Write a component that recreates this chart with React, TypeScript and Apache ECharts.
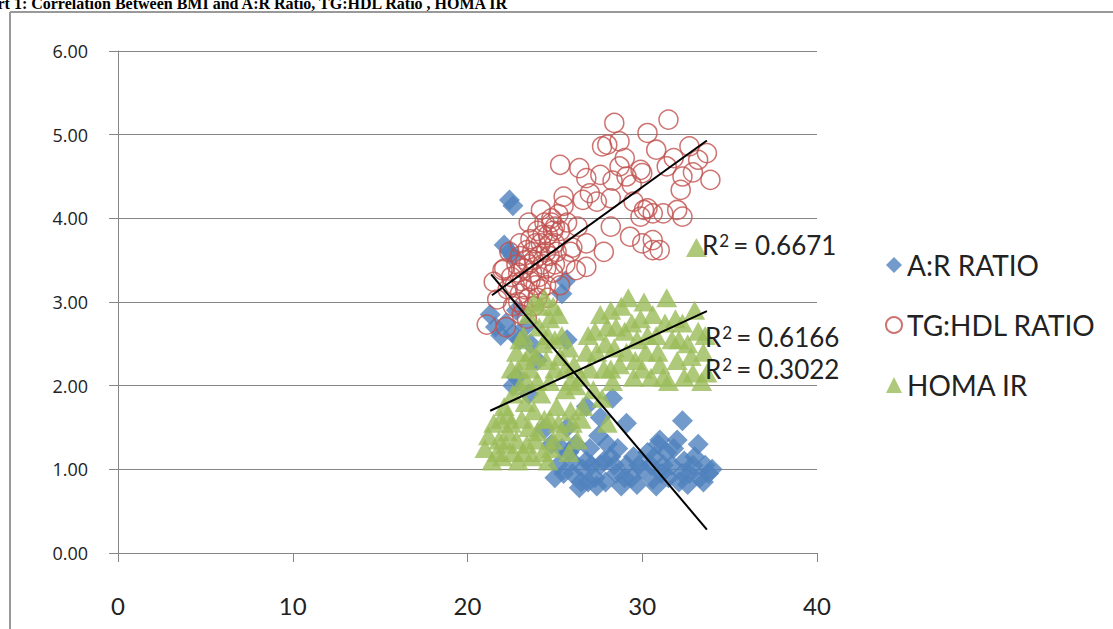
import React, { useEffect, useRef } from "react";
import * as echarts from "echarts";

const xMin = 0;
const xMax = 40;
const xStep = 10;
const yMin = 0;
const yMax = 6;
const yStep = 1;

const seriesNames = ["A:R RATIO", "TG:HDL RATIO", "HOMA IR"];

const arRatio: number[][] = [
  [22.4, 4.22], [22.6, 4.15], [22.1, 3.68], [22.4, 3.6], [22.6, 3.55],
  [21.3, 2.85], [21.6, 2.7], [21.9, 2.6], [22.2, 2.75], [22.6, 2.62],
  [23.0, 2.55], [22.8, 2.9], [23.3, 2.7], [23.6, 2.5], [25.4, 3.1],
  [25.6, 3.25], [25.7, 2.55], [22.8, 2.1], [24.4, 1.48], [23.5, 1.9],
  [24.0, 2.3], [22.6, 2.0],
  [25.2, 1.05], [25.5, 0.95], [25.8, 1.2], [26.2, 1.3], [26.5, 0.85],
  [26.8, 1.1], [27.0, 1.25], [27.3, 0.9], [27.6, 1.05], [27.9, 0.85],
  [28.2, 1.15], [28.5, 0.95], [28.8, 0.8], [29.1, 1.05], [29.4, 0.9],
  [29.7, 0.82], [30.0, 1.0], [30.3, 1.2], [30.6, 0.88], [30.9, 1.3],
  [31.2, 1.05], [31.5, 0.9], [31.8, 1.25], [32.1, 0.85], [32.4, 1.1],
  [32.7, 0.95], [33.0, 1.15], [33.3, 0.9], [33.6, 1.05], [33.8, 0.95],
  [31.0, 1.35], [29.5, 1.15], [28.0, 1.3], [26.0, 0.95], [25.0, 0.9],
  [27.5, 1.4], [28.3, 1.85], [29.1, 1.55], [32.3, 1.58], [27.6, 1.62],
  [26.8, 1.75], [25.7, 1.5], [24.8, 1.3], [26.4, 0.78], [30.8, 0.8],
  [32.6, 0.82],
  [25.4, 1.25], [26.0, 1.1], [26.6, 1.0], [27.1, 1.05], [27.8, 1.1],
  [28.4, 1.05], [29.0, 0.9], [29.8, 1.05], [30.5, 1.05], [31.1, 0.95],
  [31.7, 1.05], [32.3, 0.95], [32.9, 1.05], [33.5, 0.85], [31.4, 1.2],
  [32.0, 1.35], [30.7, 1.15], [28.6, 1.25], [27.4, 0.8], [26.9, 0.85],
  [34.0, 1.0], [33.2, 1.3],
];

const tgHdlRatio: number[][] = [
  [28.4, 5.14], [31.5, 5.18], [25.3, 4.64], [26.4, 4.6], [27.7, 4.86],
  [28.7, 4.92], [30.3, 5.02], [26.8, 4.48], [27.6, 4.52], [28.3, 4.45],
  [29.1, 4.5], [29.9, 4.58], [25.5, 4.26], [26.6, 4.22], [27.4, 4.2],
  [28.2, 4.24], [29.5, 4.2], [30.1, 4.1], [30.6, 4.06], [26.3, 3.9],
  [26.8, 3.7], [26.8, 3.42], [28.2, 3.9], [29.3, 3.78], [30.0, 3.7],
  [30.6, 3.62], [28.0, 4.88], [30.8, 4.82], [32.7, 4.86], [33.7, 4.78],
  [33.9, 4.46], [32.3, 4.5], [31.4, 4.62], [32.2, 4.34], [30.0, 4.54],
  [28.7, 4.62], [29.4, 4.4], [30.3, 4.12], [29.9, 4.02], [31.2, 4.06],
  [32.0, 4.1], [32.3, 4.02], [31.0, 3.62], [30.6, 3.74], [33.2, 4.7],
  [32.9, 4.55], [31.8, 4.72], [29.0, 4.72], [27.0, 4.3], [27.8, 3.6],
  [25.9, 3.6], [26.2, 3.38],
  [22.5, 3.3], [22.8, 3.45], [23.0, 3.55], [23.2, 3.4], [23.4, 3.62],
  [23.6, 3.75], [23.8, 3.5], [24.0, 3.85], [24.2, 3.7], [24.4, 3.95],
  [24.5, 3.6], [24.6, 3.8], [24.8, 4.0], [25.0, 3.9], [25.2, 4.05],
  [24.1, 3.3], [23.9, 3.2], [23.5, 3.05], [23.3, 3.15], [23.7, 3.35],
  [24.3, 3.45], [24.7, 3.55], [25.0, 3.7], [25.3, 3.85], [22.9, 3.0],
  [22.6, 2.95], [23.1, 2.85], [23.4, 2.8], [24.0, 3.05], [24.5, 3.2],
  [22.3, 3.15], [22.1, 3.4], [22.4, 3.6], [23.0, 3.7], [23.5, 3.95],
  [24.2, 4.1], [25.5, 4.15], [25.7, 3.95], [21.5, 3.24], [22.0, 3.38],
  [21.1, 2.73], [21.7, 3.03], [22.2, 2.7], [23.8, 2.95], [24.9, 3.35],
  [25.3, 3.2], [26.0, 3.65], [25.6, 3.45],
  [22.7, 3.2], [22.9, 3.35], [23.1, 3.25], [23.3, 3.5], [23.5, 3.45],
  [23.7, 3.6], [23.9, 3.7], [24.1, 3.55], [24.3, 3.8], [24.5, 3.4],
  [24.7, 3.7], [24.9, 3.85], [25.1, 3.6], [23.2, 2.95], [23.6, 3.25],
  [24.2, 3.15], [24.6, 3.05], [25.0, 3.45], [23.0, 3.1], [24.8, 3.95],
];

const homaIr: number[][] = [
  [21.0, 1.25], [21.4, 1.1], [21.8, 1.35], [22.0, 1.15], [22.3, 1.45],
  [22.6, 1.2], [22.9, 1.1], [23.1, 1.6], [23.4, 1.3], [23.7, 1.15],
  [24.0, 1.45], [24.3, 1.2], [24.6, 1.1], [24.9, 1.35], [21.5, 1.55],
  [22.1, 1.75], [22.6, 1.9], [23.0, 2.0], [23.3, 1.8], [23.8, 1.7],
  [24.2, 1.9], [24.7, 1.6], [25.1, 1.75], [25.4, 1.45], [25.6, 1.95],
  [25.9, 1.7], [26.2, 2.0], [23.6, 2.2], [24.0, 2.05], [24.5, 2.3],
  [22.8, 2.4], [23.2, 2.6], [23.5, 2.85], [23.8, 3.0], [24.1, 2.7],
  [24.4, 3.05], [24.7, 2.8], [25.0, 2.55], [25.3, 2.35], [25.6, 2.2],
  [24.3, 2.5], [23.9, 2.35], [25.2, 2.85], [25.8, 2.45], [26.1, 2.25],
  [22.5, 2.2],
  [21.2, 1.4], [21.7, 1.2], [22.2, 1.3], [22.5, 1.55], [22.8, 1.35],
  [23.2, 1.2], [23.5, 1.5], [23.9, 1.35], [24.4, 1.6], [24.8, 1.25],
  [25.2, 1.55], [25.8, 1.2], [26.3, 1.35], [26.0, 1.55], [26.5, 1.6],
  [22.9, 2.2], [23.4, 2.05], [24.7, 2.05], [25.0, 2.2], [23.0, 2.55],
  [23.6, 2.4], [24.1, 2.95], [24.6, 2.6], [25.4, 2.6], [24.9, 2.95],
  [23.3, 2.3], [25.9, 2.05], [21.9, 1.6], [22.3, 1.65],
  [26.5, 2.1], [26.8, 2.4], [27.0, 2.2], [27.3, 2.65], [27.6, 2.85],
  [27.9, 2.5], [28.2, 2.2], [28.5, 2.7], [28.8, 2.95], [29.1, 2.4],
  [29.4, 2.75], [29.7, 2.55], [30.0, 2.2], [30.3, 2.6], [30.6, 2.85],
  [30.9, 2.4], [31.2, 2.1], [31.4, 3.05], [31.7, 2.55], [32.0, 2.3],
  [32.3, 2.75], [32.6, 2.5], [32.9, 2.15], [33.2, 2.65], [33.5, 2.4],
  [33.7, 2.15], [33.1, 3.65], [29.2, 3.05], [28.0, 1.55], [27.7, 1.85],
  [28.3, 2.05], [30.5, 2.1], [31.5, 2.05], [32.4, 2.1], [33.4, 2.05],
  [29.5, 2.1], [27.2, 1.95], [26.6, 1.75],
  [26.9, 2.6], [27.4, 2.4], [27.8, 2.2], [28.0, 2.7], [28.4, 2.45],
  [28.7, 2.25], [29.0, 2.65], [29.6, 2.3], [29.9, 2.8], [30.2, 2.4],
  [30.8, 2.6], [31.0, 2.25], [31.3, 2.75], [31.9, 2.8], [32.1, 2.55],
  [32.8, 2.35], [33.0, 2.9], [33.6, 2.6], [30.1, 3.0], [28.2, 2.9],
];

const arTrend: number[][] = [[21.35, 3.33], [33.7, 0.28]];
const tgHdlTrend: number[][] = [[21.4, 3.08], [33.7, 4.93]];
const homaTrend: number[][] = [[21.3, 1.7], [33.7, 2.89]];

const rSquaredValues = ["0.6671", "0.6166", "0.3022"];

const titleText =
  "Chart 1: Correlation Between BMI and A:R Ratio, TG:HDL Ratio , HOMA IR";

const BLUE = "#4F81BD";
const RED = "#C0504D";
const GREEN = "#9BBB59";
const GRID = "#868686";
const TEXT = "#222";
const SANS = "Lato";

export default function App() {
  const ref = useRef<HTMLDivElement>(null);

  useEffect(() => {
    if (!ref.current) return;
    const chart = echarts.init(ref.current, undefined, { renderer: "svg" });

    const trendSeries = (data: number[][]) => ({
      type: "line",
      data,
      symbol: "none",
      silent: true,
      lineStyle: { color: "#000", width: 2 },
      z: 5,
    });

    const rLabel = (value: string, x: number, y: number) => ({
      type: "text",
      x,
      y,
      z: 10,
      style: {
        text: `R{s|2}= ${value}`,
        fontSize: 26,
        fontFamily: SANS,
        fill: TEXT,
        verticalAlign: "middle",
        rich: {
          s: {
            fontSize: 17,
            fontFamily: SANS,
            fill: TEXT,
            verticalAlign: "top",
            padding: [0, 4, 0, 1],
          },
        },
      },
    });

    chart.setOption({
      animation: false,
      backgroundColor: "#fff",
      grid: { left: 118, top: 51, right: 296, bottom: 76 },
      xAxis: {
        type: "value",
        min: xMin,
        max: xMax,
        interval: xStep,
        axisLine: { show: true, lineStyle: { color: GRID, width: 1 } },
        axisTick: { show: true, length: 9, lineStyle: { color: GRID } },
        splitLine: { show: false },
        axisLabel: {
          margin: 40,
          color: TEXT,
          fontSize: 24,
          fontFamily: SANS,
        },
      },
      yAxis: {
        type: "value",
        min: yMin,
        max: yMax,
        interval: yStep,
        axisLine: { show: true, lineStyle: { color: GRID, width: 1 } },
        axisTick: { show: true, length: 9, lineStyle: { color: GRID } },
        splitLine: { show: true, lineStyle: { color: GRID, width: 1 } },
        axisLabel: {
          margin: 30,
          color: TEXT,
          fontSize: 18,
          fontFamily: "Open Sans",
          formatter: (v: number) => v.toFixed(2),
        },
      },
      legend: {
        data: [
          { name: seriesNames[0], icon: "diamond" },
          { name: seriesNames[1], icon: "circle" },
          { name: seriesNames[2], icon: "triangle" },
        ],
        orient: "vertical",
        left: 885,
        top: 251,
        padding: 0,
        itemWidth: 16,
        itemHeight: 16,
        itemGap: 32,
        textStyle: {
          color: TEXT,
          fontSize: 28,
          lineHeight: 28,
          fontFamily: SANS,
        },
      },
      series: [
        {
          name: seriesNames[0],
          type: "scatter",
          data: arRatio,
          symbol: "diamond",
          symbolSize: 21,
          itemStyle: { color: BLUE },
          z: 2,
        },
        {
          name: seriesNames[1],
          type: "scatter",
          data: tgHdlRatio,
          symbol: "circle",
          symbolSize: 19,
          itemStyle: {
            color: "rgba(255,255,255,0)",
            borderColor: RED,
            borderWidth: 1.5,
          },
          z: 3,
        },
        {
          name: seriesNames[2],
          type: "scatter",
          data: homaIr,
          symbol: "triangle",
          symbolSize: [21, 19],
          itemStyle: { color: GREEN },
          z: 4,
        },
        trendSeries(arTrend),
        trendSeries(tgHdlTrend),
        trendSeries(homaTrend),
      ],
      graphic: [
        {
          type: "line",
          shape: { x1: 10, y1: 12, x2: 1113, y2: 12 },
          style: { stroke: "#999", lineWidth: 2 },
        },
        {
          type: "line",
          shape: { x1: 10, y1: 12, x2: 10, y2: 629 },
          style: { stroke: "#999", lineWidth: 2 },
        },
        {
          type: "text",
          x: -31,
          y: 11,
          style: {
            text: titleText,
            font: "bold 16px 'Liberation Serif'",
            fill: "#000",
            verticalAlign: "bottom",
          },
        },
        rLabel(rSquaredValues[0], 702, 245),
        rLabel(rSquaredValues[1], 705, 337),
        rLabel(rSquaredValues[2], 705, 369),
      ],
    });

    return () => chart.dispose();
  }, []);

  return (
    <div
      ref={ref}
      style={{ position: "absolute", left: 0, top: 0, width: 1113, height: 629 }}
    />
  );
}
